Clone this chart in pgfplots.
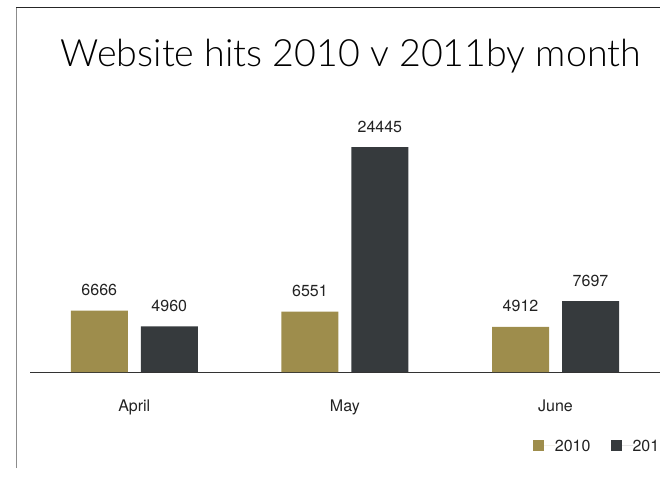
\documentclass[border=0pt]{standalone}
\usepackage{fontspec}
\setmainfont{TeX Gyre Heros}
\newfontfamily\titlefont{Lato Light}
\usepackage{pgfplots}
\pgfplotsset{compat=1.18}
\definecolor{gold}{HTML}{9E8D4C}
\definecolor{slate}{HTML}{363A3D}
\definecolor{txt}{HTML}{222222}
\begin{document}
\begin{tikzpicture}[x=1pt,y=1pt]
\useasboundingbox (0,0) rectangle (660,479);
\draw[color=black!45, line width=1pt] (16,11) -- (16,472);
\draw[color=black!85, line width=0.9pt] (16,472) -- (660,472);
\node[anchor=base, inner sep=0pt, font=\titlefont\fontsize{37.6}{44}\selectfont, text=black] at (351,412) {Website hits 2010 v 2011by month};
\begin{axis}[
  at={(30pt,107pt)}, anchor=south west,
  scale only axis, width=630pt, height=276pt,
  xmin=-0.495, xmax=2.496, ymin=0, ymax=30000,
  axis y line=none, axis x line*=bottom,
  x axis line style={color=black!80, line width=0.8pt},
  xtick={0,1,2}, xticklabels={April,May,June}, major tick length=0pt,
  xticklabel style={anchor=base, yshift=-39pt, inner sep=0pt, font=\fontsize{16}{19}\selectfont, text=txt},
  ytick=\empty,
  ybar, bar width=57pt,
  nodes near coords,
  every node near coord/.append style={anchor=base, yshift=15pt, inner sep=0pt, font=\fontsize{16}{19}\selectfont, text=txt},
  /pgf/number format/1000 sep={}, /pgf/number format/assume math mode=true,
  legend columns=2,
  legend style={at={(rel axis cs:0.798,-0.266)}, anchor=west, draw=none, fill=none, inner sep=0pt,
    font=\fontsize{16}{19}\selectfont, text=txt,
    /tikz/every even column/.append style={column sep=20pt},
    nodes={inner sep=0pt, anchor=west, text depth=0pt}},
  legend image code/.code={\fill[#1] (0pt,-5.5pt) rectangle (11pt,5.5pt); \path (0pt,0pt) rectangle (22pt,0pt);},
]
\addplot[fill=gold, draw=none, bar shift=-35pt] coordinates {(0,6666) (1,6551) (2,4912)};
\addplot[fill=slate, draw=none, bar shift=35pt] coordinates {(0,4960) (1,24445) (2,7697)};
\legend{2010,2011}
\end{axis}
\end{tikzpicture}
\end{document}
